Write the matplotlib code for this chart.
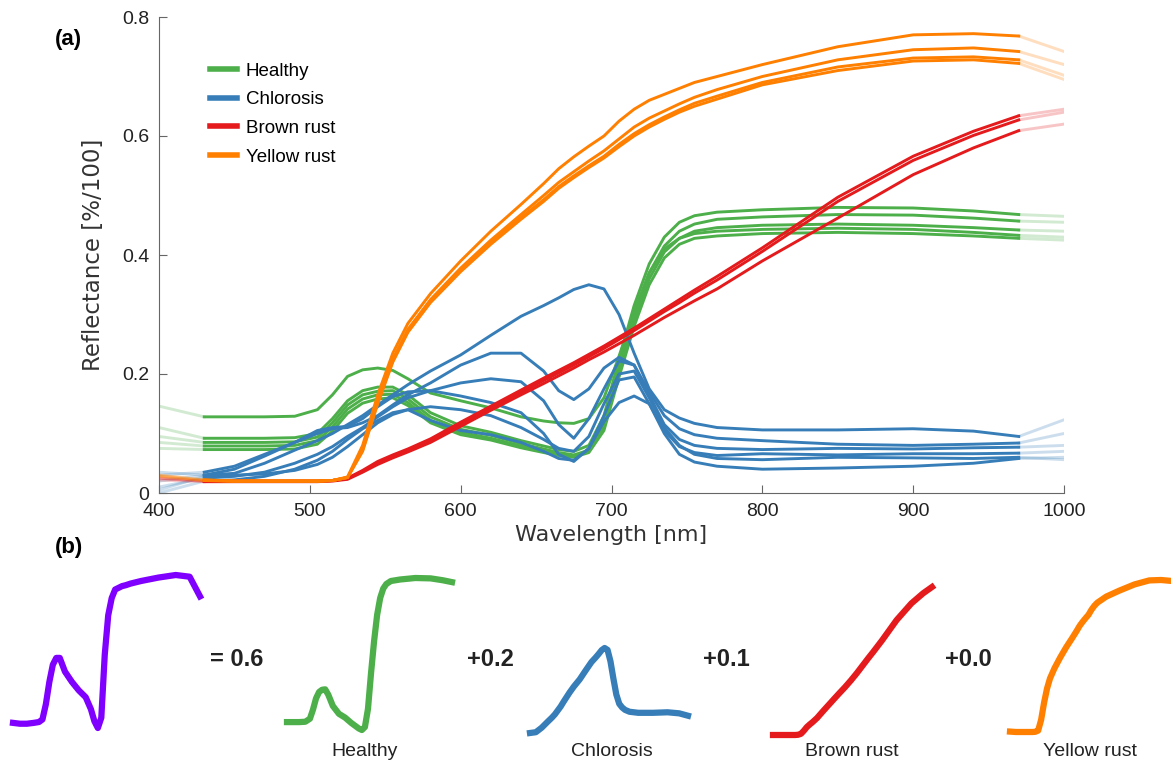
import matplotlib
matplotlib.use('Agg')
import matplotlib.pyplot as plt

# wavelength grid [nm]; 400-430 and 970-1000 are drawn faded
wl = [400, 430, 450, 470, 490, 505, 515, 525, 535, 545, 555, 565, 580, 600, 620, 640, 655,
      665, 675, 685, 695, 705, 715, 725, 735, 745, 755, 770, 800, 850, 900, 940, 970, 1000]

# Healthy
healthy_1 = [.146, .128, .128, .128, .129, .140, .165, .196, .207, .210, .206, .192, .168, .155, .143, .128, .121,
             .118, .117, .125, .160, .230, .305, .370, .410, .428, .436, .440, .443, .445, .443, .438, .433, .430]
healthy_2 = [.110, .092, .092, .092, .093, .100, .125, .155, .172, .178, .178, .165, .135, .113, .102, .088, .079,
             .073, .070, .080, .130, .225, .315, .385, .430, .455, .466, .472, .476, .480, .479, .474, .468, .465]
healthy_3 = [.095, .085, .085, .085, .086, .094, .118, .148, .165, .171, .172, .158, .128, .107, .097, .083, .074,
             .068, .064, .072, .120, .215, .300, .370, .415, .440, .452, .460, .464, .468, .467, .462, .457, .455]
healthy_4 = [.085, .079, .079, .079, .080, .088, .111, .141, .158, .165, .166, .152, .122, .102, .092, .079, .070,
             .065, .062, .070, .112, .205, .290, .360, .405, .428, .440, .446, .450, .452, .450, .446, .442, .440]
healthy_5 = [.075, .073, .073, .073, .074, .082, .104, .134, .151, .158, .160, .147, .118, .098, .089, .076, .068,
             .063, .060, .068, .105, .195, .280, .350, .395, .418, .428, .432, .436, .438, .436, .432, .428, .425]

# Chlorosis
chlorosis_1 = [.035, .030, .033, .050, .072, .088, .100, .115, .130, .148, .165, .182, .205, .232, .265, .297, .315,
               .328, .342, .350, .343, .300, .235, .175, .140, .126, .117, .110, .106, .106, .108, .104, .095, .123]
chlorosis_2 = [.030, .035, .045, .065, .085, .100, .108, .110, .118, .130, .148, .165, .185, .215, .235, .235, .205,
               .172, .157, .175, .210, .228, .215, .170, .130, .108, .098, .092, .088, .082, .080, .082, .084, .100]
chlorosis_3 = [.010, .025, .028, .035, .050, .065, .078, .095, .110, .128, .145, .160, .172, .185, .192, .187, .155,
               .115, .092, .125, .175, .222, .215, .165, .115, .090, .080, .075, .073, .075, .074, .076, .077, .080]
chlorosis_4 = [.020, .030, .040, .062, .085, .105, .110, .112, .125, .145, .162, .170, .172, .163, .152, .135, .100,
               .065, .053, .075, .120, .152, .163, .150, .100, .065, .052, .045, .040, .042, .045, .050, .058, .060]
chlorosis_5 = [.000, .020, .022, .028, .040, .055, .070, .090, .108, .122, .135, .140, .122, .105, .098, .085, .070,
               .058, .055, .075, .130, .190, .195, .150, .105, .078, .068, .063, .066, .064, .066, .066, .067, .070]
chlorosis_6 = [.005, .028, .030, .032, .038, .048, .060, .078, .098, .118, .132, .140, .145, .140, .130, .110, .090,
               .075, .070, .095, .150, .200, .205, .160, .110, .080, .065, .058, .056, .060, .059, .058, .060, .056]

# Brown rust
brown_1 = [.025, .020, .020, .020, .020, .020, .021, .025, .038, .053, .064, .074, .091, .119, .146, .173, .193,
           .206, .219, .233, .247, .262, .277, .293, .309, .325, .341, .364, .412, .497, .566, .608, .634, .645]
brown_2 = [.025, .020, .020, .020, .020, .020, .021, .024, .036, .050, .061, .071, .088, .115, .142, .169, .189,
           .202, .215, .229, .243, .258, .273, .289, .305, .320, .336, .358, .406, .490, .559, .601, .627, .640]
brown_3 = [.022, .019, .019, .019, .019, .019, .020, .023, .035, .048, .059, .069, .085, .112, .139, .165, .184,
           .197, .210, .224, .237, .251, .265, .280, .295, .309, .323, .343, .390, .462, .535, .580, .609, .620]

# Yellow rust
yellow_1 = [.030, .022, .020, .020, .020, .020, .021, .027, .080, .165, .235, .285, .335, .390, .440, .485, .520,
            .545, .565, .583, .600, .625, .645, .660, .670, .680, .690, .700, .720, .750, .770, .772, .768, .742]
yellow_2 = [.030, .022, .020, .020, .020, .020, .021, .026, .075, .155, .225, .275, .325, .378, .425, .468, .500,
            .522, .540, .558, .575, .595, .615, .630, .642, .654, .665, .678, .700, .728, .745, .748, .742, .720]
yellow_3 = [.028, .021, .020, .020, .020, .020, .021, .026, .070, .150, .220, .270, .320, .372, .418, .460, .490,
            .512, .530, .547, .563, .582, .600, .615, .628, .640, .650, .662, .686, .710, .726, .728, .722, .695]
yellow_4 = [.028, .021, .020, .020, .020, .020, .021, .026, .072, .152, .222, .272, .322, .375, .421, .463, .493,
            .515, .533, .550, .566, .586, .604, .619, .632, .644, .655, .667, .690, .716, .731, .733, .728, .702]

# (b) mixed spectrum, 430-970 nm
mixed = [.12, .115, .115, .12, .125, .14, .23, .36, .46, .50, .50, .42, .36, .31, .27, .20,
         .13, .09, .15, .52, .75, .85, .90, .91, .92, .925, .935, .95, .97, .985, .975, .86]
weights = ['= 0.6', '+0.2', '+0.1', '+0.0']

classes = ['Healthy', 'Chlorosis', 'Brown rust', 'Yellow rust']
colors = ['#4daf4a', '#377eb8', '#e41a1c', '#ff7f00']
groups = [[healthy_1, healthy_2, healthy_3, healthy_4, healthy_5],
          [chlorosis_1, chlorosis_2, chlorosis_3, chlorosis_4, chlorosis_5, chlorosis_6],
          [brown_1, brown_2, brown_3],
          [yellow_1, yellow_2, yellow_3, yellow_4]]

W, H = 1171, 769
fig = plt.figure(figsize=(W / 100, H / 100), dpi=100)
ax = fig.add_axes([159 / W, 1 - 493 / H, 905 / W, 476 / H])

for name, col, curves in zip(classes, colors, groups):
    for i, c in enumerate(curves):
        ax.plot(wl[1:-1], c[1:-1], color=col, lw=2.1, label=name if i == 0 else None)
        ax.plot(wl[:2], c[:2], color=col, lw=2.1, alpha=0.25)
        ax.plot(wl[-2:], c[-2:], color=col, lw=2.1, alpha=0.25)

ax.set_xlim(400, 1000)
ax.set_ylim(0, 0.8)
ax.set_xticks([400, 500, 600, 700, 800, 900, 1000])
ax.set_yticks([0, 0.2, 0.4, 0.6, 0.8])
ax.set_yticklabels(['0', '0.2', '0.4', '0.6', '0.8'])
for s in ['top', 'right']:
    ax.spines[s].set_visible(False)
for s in ['left', 'bottom']:
    ax.spines[s].set_color('#666666')
ax.tick_params(direction='in', length=6, color='#666666', labelsize=14, labelcolor='#222222', pad=7)
for t in ax.get_xticklabels() + ax.get_yticklabels():
    t.set_family('Liberation Sans')
ax.set_xlabel('Wavelength [nm]', fontsize=16, color='#333333', labelpad=4)
ax.set_ylabel('Reflectance [%/100]', fontsize=16.5, color='#333333', labelpad=12)

leg = ax.legend(loc='upper left', bbox_to_anchor=(0.038, 0.94), frameon=False,
                handlelength=1.45, handletextpad=0.45, labelspacing=0.62,
                prop={'family': 'Liberation Sans', 'size': 13.5})
for line in leg.get_lines():
    line.set_linewidth(4)

fig.text(55 / W, 1 - 40 / H, '(a)', fontsize=16, fontweight='bold', family='Liberation Sans', va='center')
fig.text(55 / W, 1 - 548 / H, '(b)', fontsize=16, fontweight='bold', family='Liberation Sans', va='center')

# (b) small spectra
boxes = [(13, 575, 200, 728), (287, 578, 452, 730), (530, 648, 688, 733), (773, 587, 932, 735), (1010, 580, 1170, 732)]
small = [mixed, healthy_3[1:-1], chlorosis_1[1:-1], brown_1[1:-1], yellow_1[1:-1]]
small_colors = ['#7f00ff'] + colors
for (x0, y0, x1, y1), vals, col in zip(boxes, small, small_colors):
    sax = fig.add_axes([x0 / W, 1 - y1 / H, (x1 - x0) / W, (y1 - y0) / H])
    sax.plot(wl[1:-1], vals, color=col, lw=4.5, clip_on=False, solid_joinstyle='round')
    sax.set_xlim(430, 970)
    sax.set_ylim(min(vals), max(vals))
    sax.axis('off')

for xc, s in zip([237, 490, 726, 968], weights):
    fig.text(xc / W, 1 - 660 / H, s, fontsize=17, fontweight='bold', family='Liberation Sans',
             ha='center', va='center', color='#222222')
for xc, s in zip([365, 612, 852, 1090], classes):
    fig.text(xc / W, 1 - 752 / H, s, fontsize=14, family='Liberation Sans',
             ha='center', va='center', color='#222222')

fig.savefig('out.png', dpi=100)
